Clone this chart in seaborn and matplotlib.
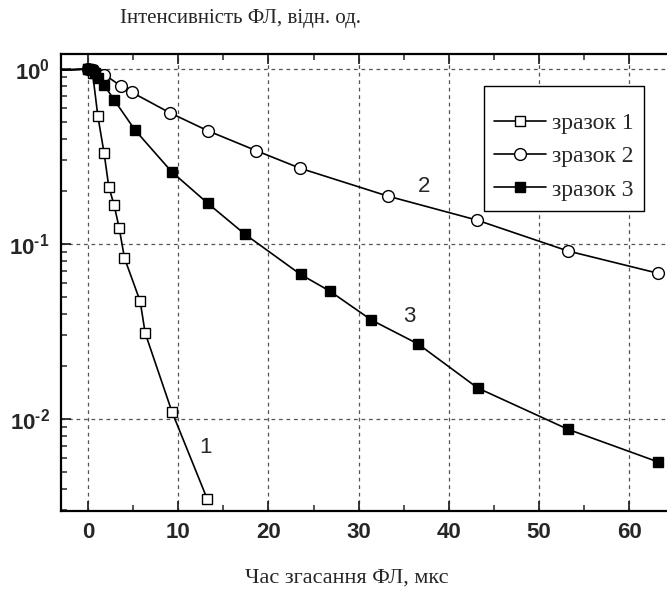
import numpy as np
import pandas as pd
import matplotlib
matplotlib.use("Agg")
import matplotlib.pyplot as plt
import seaborn as sns
from matplotlib.ticker import FixedLocator, FixedFormatter, LogLocator, NullFormatter, MultipleLocator

# ---- data ----
t1 = [-4.0, 0.0, 0.5, 1.08, 1.78, 2.3, 2.9, 3.44, 4.04, 5.78, 6.33, 9.3, 13.2]
i1 = [0.98, 1.0, 0.95, 0.54, 0.33, 0.212, 0.166, 0.124, 0.083, 0.047, 0.031, 0.011, 0.0035]

t2 = [-4.0, 0.0, 0.5, 1.8, 3.63, 4.85, 9.04, 13.26, 18.67, 23.5, 33.2, 43.1, 53.2, 63.2]
i2 = [0.98, 1.0, 0.99, 0.93, 0.80, 0.736, 0.563, 0.444, 0.341, 0.271, 0.188, 0.137, 0.0912, 0.068]

t3 = [-4.0, 0.0, 0.4, 0.8, 1.15, 1.78, 2.9, 5.2, 9.26, 13.26, 17.4, 23.56, 26.8, 31.4, 36.6, 43.2, 53.2, 63.2]
i3 = [0.98, 1.0, 0.99, 0.945, 0.885, 0.81, 0.665, 0.448, 0.259, 0.171, 0.1136, 0.067, 0.0538, 0.0368, 0.0268, 0.01503, 0.00873, 0.00568]

series_names = ["зразок 1", "зразок 2", "зразок 3"]
curve_labels = ["1", "2", "3"]
curve_label_x = [13.05, 37.2, 35.6]
curve_label_y = [0.0069, 0.213, 0.0385]

x_ticks = [0, 10, 20, 30, 40, 50, 60]
y_ticks = [1.0, 0.1, 0.01]
y_tick_labels = [r"$\mathbf{10^{0}}$", "$\\mathbf{10^{\u20101}}$", "$\\mathbf{10^{\u20102}}$"]

x_title = "Час згасання ФЛ, мкс"
y_title = "Інтенсивність ФЛ, відн. од."

# ---- style ----
sns.set_style("ticks")
plt.rcParams["font.family"] = ["Liberation Sans", "DejaVu Sans"]
plt.rcParams["mathtext.fontset"] = "custom"
plt.rcParams["mathtext.bf"] = "Liberation Sans:bold"
plt.rcParams["mathtext.rm"] = "Liberation Sans"
plt.rcParams["mathtext.it"] = "Liberation Sans:italic"

fig = plt.figure(figsize=(6.67, 5.92), dpi=100)
ax = fig.add_axes([61 / 667, 1 - 511 / 592, 1 - 61 / 667 + 0.002, (511 - 54) / 592])

df1 = pd.DataFrame({"t": t1, "I": i1})
df2 = pd.DataFrame({"t": t2, "I": i2})
df3 = pd.DataFrame({"t": t3, "I": i3})

common = dict(color="black", linewidth=1.2, estimator=None, ax=ax, markeredgecolor="black",
              markeredgewidth=1.0)
sns.lineplot(data=df1, x="t", y="I", marker="s", markersize=7, markerfacecolor="white",
             label=series_names[0], **common)
sns.lineplot(data=df2, x="t", y="I", marker="o", markersize=8.5, markerfacecolor="white",
             label=series_names[1], **common)
sns.lineplot(data=df3, x="t", y="I", marker="s", markersize=7, markerfacecolor="black",
             label=series_names[2], **common)

ax.set_yscale("log")
ax.set_xlim(-3.0, (667 - 88) / 9)
ax.set_ylim(10 ** (-2.526), 10 ** 0.0857)

ax.xaxis.set_major_locator(FixedLocator(x_ticks))
ax.xaxis.set_minor_locator(MultipleLocator(5))
ax.yaxis.set_major_locator(FixedLocator(y_ticks))
ax.yaxis.set_major_formatter(FixedFormatter(y_tick_labels))
ax.yaxis.set_minor_locator(LogLocator(base=10, subs=np.arange(2, 10)))
ax.yaxis.set_minor_formatter(NullFormatter())

ax.tick_params(axis="both", which="major", direction="in", length=7, width=1.3,
               top=True, right=False, labelsize=16, pad=8)
ax.tick_params(axis="both", which="minor", direction="in", length=4, width=1.1,
               top=True, right=False)
for lab in ax.get_xticklabels():
    lab.set_fontweight("bold")

for side in ["left", "bottom", "top"]:
    ax.spines[side].set_linewidth(1.6)
    ax.spines[side].set_color("black")
ax.spines["right"].set_visible(False)

ax.grid(True, which="major", color="#555555", linestyle=(0, (3, 3)), linewidth=0.9)
ax.set_axisbelow(True)

ax.set_xlabel("")
ax.set_ylabel("")
fig.text(347 / 667, 1 - 578 / 592, x_title, ha="center", va="center",
         fontsize=16, family=["Liberation Serif", "DejaVu Serif"])
fig.text(120 / 667, 1 - 18 / 592, y_title, ha="left", va="center",
         fontsize=15, family=["Liberation Serif", "DejaVu Serif"])

for lbl, lx, ly in zip(curve_labels, curve_label_x, curve_label_y):
    ax.text(lx, ly, lbl, ha="center", va="center", fontsize=16)

leg = ax.legend(loc="upper left", bbox_to_anchor=(0.696, 0.930), borderaxespad=0,
                frameon=True, fancybox=False, edgecolor="black", framealpha=1,
                prop={"family": "Liberation Serif", "size": 17},
                title=" ", title_fontsize=2,
                handlelength=2.2, handletextpad=0.25, labelspacing=0.5,
                borderpad=0.45)
leg.get_frame().set_linewidth(1.0)

fig.savefig("out.png", dpi=100)
